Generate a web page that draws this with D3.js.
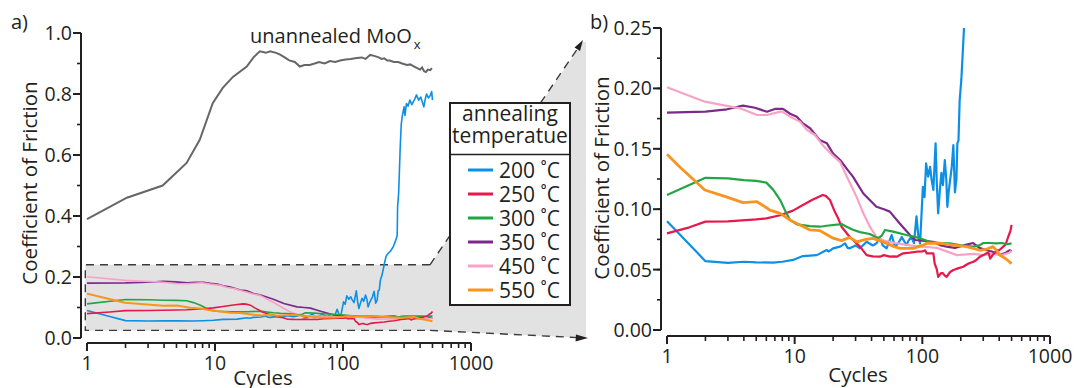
<!DOCTYPE html>
<html><head><meta charset="utf-8">
<script src="https://cdn.jsdelivr.net/npm/d3@7"></script>
<style>
html,body{margin:0;padding:0;background:#fff;}
svg{display:block;font-family:"Open Sans",sans-serif;}
</style></head>
<body><svg id="chart" width="1074" height="388"></svg>
<script>
// ---------------- DATA ----------------
const seriesLabels = ["200 \u02DAC","250 \u02DAC","300 \u02DAC","350 \u02DAC","450 \u02DAC","550 \u02DAC"];
const unannealedLabel = "unannealed MoO";
const xTickValues = [1,10,100,1000];
const yTicksLeft = [0,0.2,0.4,0.6,0.8,1.0];
const yTicksRight = [0,0.05,0.10,0.15,0.20,0.25];
const xTitle = "Cycles";
const yTitle = "Coefficient of Friction";

const cUn = [1,2.05,3.9,6.0,7.6,9.6,11.5,13.8,17.7,20,22.4,25,27,30,32,35,38,42,46,50,55,60,65,72,79,87,95,105,115,128,140,150,163,175,190,200,210,222,232,250,270,290,316,335,360,380,400,415,430,445,460,480,495];
const vUn = [0.39,0.46,0.50,0.574,0.65,0.77,0.82,0.856,0.89,0.92,0.94,0.935,0.94,0.935,0.93,0.92,0.91,0.905,0.89,0.895,0.895,0.90,0.905,0.90,0.908,0.905,0.91,0.913,0.915,0.918,0.92,0.915,0.928,0.925,0.92,0.915,0.917,0.91,0.91,0.905,0.905,0.90,0.895,0.897,0.89,0.885,0.88,0.887,0.875,0.872,0.88,0.878,0.885];

const c200 = [1,1.43,2,3,4,5,6.8,8,9.7,11.6,14.9,17.8,18.5,20,22.7,24.8,26,27,30,32.5,36.6,41,44,46.5,49,52.5,57.5,61,65,69,75,78,82,86,90,93,96,101,104,107,111,115,118,122,127,130,133,137,141,145,150,154,157,161,165,170,175,178,180,185,188,192,196,202,209,212,218,226,235,247,258,265,267,272,276,280,285,290,300,305,313,322,333,345,355,365,375,390,405,428,440,450,465,480,493,500];
const v200 = [0.090,0.073,0.057,0.0555,0.0565,0.056,0.0557,0.0565,0.058,0.0612,0.062,0.0662,0.065,0.0676,0.069,0.0717,0.068,0.0676,0.070,0.0676,0.073,0.070,0.072,0.076,0.070,0.0676,0.0786,0.069,0.072,0.077,0.0703,0.074,0.077,0.072,0.094,0.078,0.0717,0.1186,0.110,0.138,0.127,0.135,0.125,0.116,0.1545,0.120,0.0966,0.115,0.130,0.120,0.1407,0.125,0.102,0.115,0.124,0.135,0.153,0.130,0.114,0.125,0.1545,0.157,0.19,0.207,0.237,0.25,0.27,0.278,0.285,0.299,0.32,0.335,0.43,0.474,0.55,0.627,0.70,0.726,0.758,0.73,0.769,0.76,0.78,0.765,0.775,0.785,0.797,0.78,0.79,0.758,0.785,0.80,0.787,0.795,0.808,0.78];

const c250 = [1,1.5,2,3,5,6,7.7,9.7,11.6,13.9,16.6,17.5,18.9,20.6,22,23.3,27,32.5,36.6,41,46.5,50,55.6,60,63,70.8,80,90.4,100,105,108,122,125,130,133,140,145,150,155,165,175,190,209,230,251,265,283,300,318,330,340,355,370,382,400,430,450,470,490,500];
const v250 = [0.080,0.085,0.0897,0.090,0.0916,0.0924,0.095,0.0988,0.1035,0.108,0.1118,0.111,0.1076,0.098,0.092,0.0855,0.077,0.069,0.062,0.061,0.0607,0.062,0.0607,0.061,0.0607,0.0635,0.064,0.0648,0.065,0.066,0.0635,0.0635,0.055,0.050,0.044,0.047,0.047,0.045,0.044,0.048,0.0497,0.051,0.0524,0.055,0.0565,0.058,0.0607,0.062,0.0635,0.064,0.059,0.062,0.064,0.066,0.066,0.069,0.071,0.077,0.082,0.087];

const c300 = [1,2,3,4,5,6,6.8,7.7,8.4,9.2,10.4,13.2,15.8,17.8,23.3,25.5,28.6,32.5,38.8,45,48,51,59,75,96,114,140,165,200,250,280,300,340,380,420,460,500];
const v300 = [0.1118,0.126,0.1255,0.124,0.1235,0.122,0.116,0.1076,0.099,0.091,0.0875,0.086,0.0855,0.0863,0.0877,0.0855,0.083,0.081,0.0795,0.076,0.078,0.0828,0.0814,0.0786,0.076,0.073,0.072,0.0717,0.070,0.069,0.070,0.072,0.072,0.0717,0.072,0.071,0.0717];

const c350 = [1,2,2.95,3.94,4.89,6.06,7,8.1,9.2,10.4,11.6,13.2,15.8,17.9,20,22.7,26,28.6,34.5,43.7,50,55.6,66.8,80,87.6,100,121,140,155,180,210,250,280,318,350,405,450,484,500];
const v350 = [0.180,0.1807,0.1827,0.1857,0.184,0.1807,0.183,0.183,0.179,0.1766,0.171,0.167,0.157,0.1545,0.146,0.1407,0.1325,0.127,0.113,0.102,0.100,0.098,0.088,0.0786,0.0745,0.074,0.073,0.070,0.069,0.068,0.070,0.072,0.068,0.066,0.065,0.062,0.064,0.066,0.065];

const c450 = [1,1.98,3.73,5.07,6.06,7.9,9.2,11,12.5,14.4,16.6,19.6,22.7,25.6,28,30.6,34.5,38.8,43.7,50,61,80,100,130,186,250,300,350,420,480,500];
const v450 = [0.201,0.189,0.1835,0.178,0.178,0.181,0.1766,0.1725,0.1656,0.1614,0.153,0.145,0.139,0.127,0.1186,0.110,0.0966,0.0855,0.077,0.074,0.072,0.070,0.069,0.068,0.062,0.063,0.062,0.063,0.062,0.064,0.0655];

const c550 = [1,1.26,1.98,2.95,3.94,5.07,6.06,6.4,7.7,9.2,11,13.2,15.8,20,23.3,27,30.7,36,41,46,52.5,60,66.8,85,100,108,137,175,222,283,320,358,380,405,450,500];
const v550 = [0.1454,0.135,0.1159,0.110,0.1054,0.1062,0.101,0.0993,0.0966,0.091,0.087,0.0828,0.0822,0.076,0.074,0.0767,0.073,0.075,0.0759,0.074,0.0717,0.069,0.0676,0.0676,0.070,0.0717,0.0717,0.0703,0.069,0.066,0.067,0.069,0.066,0.062,0.059,0.055];

const seriesCycles = [c200,c250,c300,c350,c450,c550];
const seriesValues = [v200,v250,v300,v350,v450,v550];
const seriesColors = ["#0d8fe6","#e5194b","#24a545","#7b2a8a","#f7a3c6","#f9951e"];

// ---------------- DRAW ----------------
const svg = d3.select("#chart");
const FONT_TICK = 19.5, FONT_TITLE = 20.5;
const axisColor = "#231f20";

// scales
const xL = d3.scaleLog().domain([1,1000]).range([87,471]);
const yL = d3.scaleLinear().domain([0,1]).range([338,33]);
const xR = d3.scaleLog().domain([1,1000]).range([667,1050]);
const yR = d3.scaleLinear().domain([0,0.25]).range([330,28]);

// gray zoom call-out (behind)
const rx0 = xL(0.97), rx1 = xL(478), ry0 = yL(0.24), ry1 = yL(0.025);
svg.append("path")
  .attr("d", `M${rx0},${ry0}L${rx1},${ry0}L583,42L586,42L586,338L${rx1},${ry1}L${rx0},${ry1}Z`)
  .attr("fill","#e2e2e2");
const dash = "8,6";
svg.append("path").attr("d",`M${rx1},${ry0}L${rx0},${ry0}L${rx0},${ry1}L${rx1},${ry1}`)
  .attr("fill","none").attr("stroke","#3a3a3a").attr("stroke-width",1.4).attr("stroke-dasharray",dash);
svg.append("path").attr("d",`M${rx1},${ry0}L578,48`)
  .attr("fill","none").attr("stroke","#3a3a3a").attr("stroke-width",1.4).attr("stroke-dasharray",dash);
svg.append("path").attr("d",`M${rx1},${ry1}L578,337.6`)
  .attr("fill","none").attr("stroke","#3a3a3a").attr("stroke-width",1.4).attr("stroke-dasharray",dash);
// arrowheads
svg.append("path").attr("d","M583,40L574.5,47.5L580,51Z").attr("fill","#231f20");
svg.append("path").attr("d","M588,338L576,334.5L575.5,341.5Z").attr("fill","#231f20");

function drawAxes(x, y, xAxisY, yAxisX, yTicks, yMinorStep, fmt){
  const g = svg.append("g");
  // y axis
  const [y0,y1] = y.domain();
  g.append("line").attr("x1",yAxisX).attr("x2",yAxisX).attr("y1",y(y0)).attr("y2",y(y1))
    .attr("stroke",axisColor).attr("stroke-width",2);
  const minors = d3.range(y0, y1 + 1e-9, yMinorStep);
  minors.forEach(v=>{
    g.append("line").attr("x1",yAxisX-4).attr("x2",yAxisX).attr("y1",y(v)).attr("y2",y(v))
      .attr("stroke",axisColor).attr("stroke-width",1.6);
  });
  yTicks.forEach(v=>{
    g.append("line").attr("x1",yAxisX-8).attr("x2",yAxisX).attr("y1",y(v)).attr("y2",y(v))
      .attr("stroke",axisColor).attr("stroke-width",2);
    g.append("text").attr("x",yAxisX-9).attr("y",y(v)).attr("dy","0.36em")
      .attr("text-anchor","end").attr("font-size",FONT_TICK).attr("fill","#231f20").text(fmt(v));
  });
  // x axis
  const [xa,xb] = x.domain();
  g.append("line").attr("x1",x(xa)).attr("x2",x(xb)).attr("y1",xAxisY).attr("y2",xAxisY)
    .attr("stroke",axisColor).attr("stroke-width",2);
  const xt = x.ticks();
  xt.forEach(v=>{
    const major = xTickValues.includes(v);
    g.append("line").attr("x1",x(v)).attr("x2",x(v)).attr("y1",xAxisY).attr("y2",xAxisY+(major?8:5))
      .attr("stroke",axisColor).attr("stroke-width",major?2:1.6);
  });
  xTickValues.forEach(v=>{
    g.append("text").attr("x",x(v)).attr("y",xAxisY+27).attr("text-anchor","middle")
      .attr("font-size",FONT_TICK).attr("fill","#231f20").text(String(v));
  });
}

drawAxes(xL, yL, 343, 81, yTicksLeft, 0.1, d3.format(".1f"));
drawAxes(xR, yR, 336, 661, yTicksRight, 0.025, d3.format(".2f"));

// titles
svg.append("text").attr("x",263).attr("y",385).attr("text-anchor","middle").attr("font-size",FONT_TITLE).attr("fill","#231f20").text(xTitle);
svg.append("text").attr("x",858).attr("y",382).attr("text-anchor","middle").attr("font-size",FONT_TITLE).attr("fill","#231f20").text(xTitle);
svg.append("text").attr("transform","translate(37,183) rotate(-90)").attr("text-anchor","middle").attr("font-size",FONT_TITLE).attr("fill","#231f20").text(yTitle);
svg.append("text").attr("transform","translate(609,178) rotate(-90)").attr("text-anchor","middle").attr("font-size",FONT_TITLE).attr("fill","#231f20").text(yTitle);
svg.append("text").attr("x",11).attr("y",29).attr("font-size",20).attr("fill","#231f20").text("a)");
svg.append("text").attr("x",590).attr("y",29).attr("font-size",20).attr("fill","#231f20").text("b)");

// left panel lines
const lineL = (cs,vs)=>d3.line().x((d,i)=>xL(cs[i])).y((d,i)=>yL(vs[i]))(vs);
svg.append("path").attr("d",lineL(cUn,vUn)).attr("fill","none").attr("stroke","#666666").attr("stroke-width",2);
const orderL = [0,3,4,2,1,5];
orderL.forEach(k=>{
  svg.append("path").attr("d",lineL(seriesCycles[k],seriesValues[k]))
    .attr("fill","none").attr("stroke",seriesColors[k]).attr("stroke-width",k===5?2:1.6).attr("stroke-linejoin","round");
});
const tU = svg.append("text").attr("x",250).attr("y",43).attr("font-size",20).attr("fill","#231f20");
tU.append("tspan").text(unannealedLabel);
tU.append("tspan").attr("font-size",13).attr("dy",6).attr("dx",2).text("x");

// right panel lines (clipped)
svg.append("clipPath").attr("id","clipR").append("rect").attr("x",662).attr("y",yR(0.25)).attr("width",400).attr("height",yR(0)-yR(0.25)+5);
const gR = svg.append("g").attr("clip-path","url(#clipR)");
const lineR = (cs,vs)=>d3.line().x((d,i)=>xR(cs[i])).y((d,i)=>yR(vs[i]))(vs);
const orderR = [0,3,4,1,2,5];
orderR.forEach(k=>{
  gR.append("path").attr("d",lineR(seriesCycles[k],seriesValues[k]))
    .attr("fill","none").attr("stroke",seriesColors[k]).attr("stroke-width",k===5?2.8:2.2).attr("stroke-linejoin","round");
});

// legend
const lg = svg.append("g");
lg.append("rect").attr("x",450).attr("y",103).attr("width",120).attr("height",202)
  .attr("fill","#fff").attr("stroke","#231f20").attr("stroke-width",2);
lg.append("line").attr("x1",450).attr("x2",570).attr("y1",154.5).attr("y2",154.5).attr("stroke","#231f20").attr("stroke-width",1.6);
lg.append("text").attr("x",510).attr("y",121).attr("text-anchor","middle").attr("font-size",21).attr("fill","#231f20").text("annealing");
lg.append("text").attr("x",510).attr("y",143).attr("text-anchor","middle").attr("font-size",21).attr("fill","#231f20").text("temperatue");
seriesLabels.forEach((lab,i)=>{
  const yy = 170 + i*24;
  lg.append("line").attr("x1",468).attr("x2",493).attr("y1",yy).attr("y2",yy).attr("stroke",seriesColors[i]).attr("stroke-width",3);
  lg.append("text").attr("x",499).attr("y",yy+8).attr("font-size",21).attr("fill","#231f20").text(lab);
});
</script>
</body></html>
